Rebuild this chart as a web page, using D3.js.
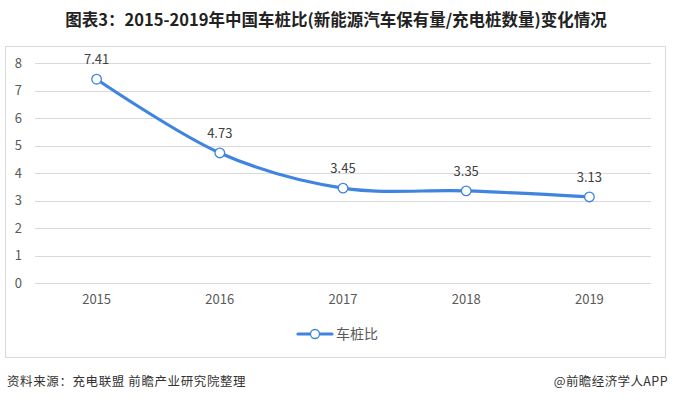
<!DOCTYPE html>
<html><head><meta charset="utf-8">
<script src="https://cdn.jsdelivr.net/npm/d3@7/dist/d3.min.js"></script>
<style>body{margin:0;background:#fff;}svg{display:block;}</style>
</head><body>
<svg id="c" width="673" height="401"></svg>
<script>
const years = ["2015","2016","2017","2018","2019"];
const ratio = [7.41, 4.73, 3.45, 3.35, 3.13];
const yTicks = [0,1,2,3,4,5,6,7,8];
const titleText = "图表3：2015-2019年中国车桩比(新能源汽车保有量/充电桩数量)变化情况";
const seriesName = "车桩比";
const sourceText = "资料来源：充电联盟 前瞻产业研究院整理";
const brandText = "@前瞻经济学人APP";

const svg = d3.select("#c");
const font = "'Noto Sans CJK SC', 'Noto Sans', sans-serif";
const blue = "#3f84e0";

svg.append("text").attr("x", 336).attr("y", 26).attr("text-anchor", "middle")
  .attr("font-family", font).attr("font-weight", "bold").attr("font-size", 16.5)
  .attr("fill", "#222").text(titleText);

svg.append("rect").attr("x", 5.5).attr("y", 46.5).attr("width", 660).attr("height", 311)
  .attr("fill", "none").attr("stroke", "#d9d9d9");

const x = d3.scaleBand().domain(years).range([35, 651]);
const y = d3.scaleLinear().domain([0, 8]).range([283, 63]);

const grid = svg.append("g");
grid.selectAll("line").data(yTicks).join("line")
  .attr("x1", 35).attr("x2", 651)
  .attr("y1", d => Math.round(y(d)) + 0.5).attr("y2", d => Math.round(y(d)) + 0.5)
  .attr("stroke", "#d9d9d9").attr("stroke-width", 1);

const yAxis = svg.append("g").attr("transform", "translate(22,0)")
  .call(d3.axisLeft(y).tickValues(yTicks).tickSize(0).tickPadding(0));
yAxis.select(".domain").remove();
yAxis.selectAll("text").attr("font-family", font).attr("font-size", 13).attr("fill", "#595959");

const xAxis = svg.append("g").attr("transform", "translate(0,283)")
  .call(d3.axisBottom(x).tickSize(0).tickPadding(12));
xAxis.select(".domain").remove();
xAxis.selectAll("text").attr("font-family", font).attr("font-size", 13).attr("fill", "#595959");

const cx = d => x(d) + x.bandwidth() / 2;
const line = d3.line().x((d, i) => cx(years[i])).y(d => y(d)).curve(d3.curveCatmullRom.alpha(0));
svg.append("path").datum(ratio).attr("d", line)
  .attr("fill", "none").attr("stroke", blue).attr("stroke-width", 3.2).attr("stroke-linecap", "round");

svg.selectAll("circle.pt").data(ratio).join("circle").attr("class", "pt")
  .attr("cx", (d, i) => cx(years[i])).attr("cy", d => y(d)).attr("r", 4.8)
  .attr("fill", "#fff").attr("stroke", blue).attr("stroke-width", 1.3);

svg.selectAll("text.lbl").data(ratio).join("text").attr("class", "lbl")
  .attr("x", (d, i) => cx(years[i])).attr("y", d => y(d) - 15)
  .attr("text-anchor", "middle").attr("font-family", font).attr("font-size", 13)
  .attr("fill", "#404040").text(d => d.toFixed(2));

// legend
const lg = svg.append("g");
lg.append("line").attr("x1", 298).attr("x2", 332).attr("y1", 334).attr("y2", 334)
  .attr("stroke", blue).attr("stroke-width", 3.2).attr("stroke-linecap", "round");
lg.append("circle").attr("cx", 315).attr("cy", 334).attr("r", 4.5)
  .attr("fill", "#fff").attr("stroke", blue).attr("stroke-width", 1.3);
lg.append("text").attr("x", 336).attr("y", 339).attr("font-family", font).attr("font-size", 14)
  .attr("fill", "#595959").text(seriesName);

svg.append("text").attr("x", 7).attr("y", 386).attr("font-family", font).attr("font-size", 12.5)
  .attr("letter-spacing", 0.6).attr("fill", "#333").text(sourceText);
svg.append("text").attr("x", 668).attr("y", 386).attr("text-anchor", "end").attr("font-family", font).attr("font-size", 12.5)
  .attr("letter-spacing", 0.4).attr("fill", "#333").text(brandText);
</script>
</body></html>
